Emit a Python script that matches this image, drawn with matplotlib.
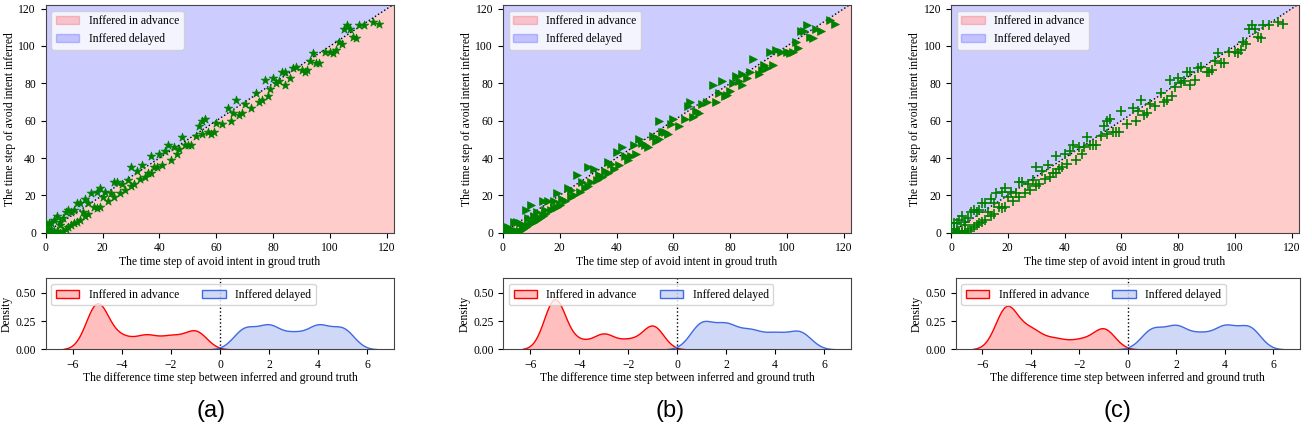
import numpy as np
import matplotlib
matplotlib.use('Agg')
import matplotlib.pyplot as plt
import seaborn as sns
from matplotlib.patches import Patch

plt.rcParams['font.family'] = ['Liberation Serif', 'DejaVu Serif']
plt.rcParams['font.size'] = 8.4
plt.rcParams['axes.edgecolor'] = '#444444'

# ground-truth time step of the avoid intent (same episodes in all three runs)
gt_steps = [0, 0, 1, 1, 1, 2, 2, 2, 3, 3,
            3, 4, 4, 4, 5, 5, 5, 6, 6, 7,
            7, 8, 8, 9, 9, 10, 10, 11, 11, 12,
            12, 13, 14, 14, 15, 15, 16, 17, 18, 18,
            19, 19, 20, 21, 22, 23, 24, 24, 25, 26,
            27, 28, 29, 30, 30, 31, 32, 33, 34, 35,
            36, 37, 37, 38, 39, 40, 41, 42, 43, 44,
            45, 46, 47, 48, 49, 50, 51, 53, 54, 55,
            55, 56, 57, 58, 59, 60, 62, 64, 65, 66,
            67, 68, 69, 70, 72, 74, 75, 76, 77, 78,
            79, 80, 81, 82, 83, 84, 84, 86, 87, 88,
            90, 91, 92, 93, 94, 95, 96, 98, 100, 101,
            102, 103, 104, 105, 106, 107, 108, 109, 110, 112,
            115, 117]

# inferred time step, model (a)
inferred_a = [2, 5, 5, 0, 2, 0, 5, 1, 0, 7,
              1, 9, 0, 1, 0, 6, 4, 1, 8, 2,
              11, 3, 12, 4, 11, 5, 12, 6, 16, 7,
              16, 11, 9, 18, 10, 16, 21, 14, 13, 22,
              24, 14, 19, 22, 17, 21, 27, 19, 27, 21,
              26, 23, 28, 35, 25, 26, 33, 29, 36, 30,
              32, 41, 32, 35, 35, 42, 36, 44, 47, 39,
              46, 42, 45, 51, 47, 47, 47, 52, 57, 60,
              53, 61, 54, 53, 54, 59, 58, 67, 60, 64,
              71, 63, 64, 69, 67, 75, 70, 71, 82, 73,
              77, 83, 80, 81, 86, 86, 79, 83, 88, 89,
              87, 86, 87, 92, 96, 91, 91, 97, 97, 96,
              98, 102, 101, 109, 111, 109, 105, 104, 111, 111,
              113, 112]

# inferred time step, model (b)
inferred_b = [1, 3, 0, 3, 0, 0, 3, 1, 0, 1,
              2, 0, 1, 6, 0, 1, 6, 1, 5, 2,
              4, 3, 12, 4, 8, 5, 15, 6, 9, 7,
              11, 8, 9, 17, 10, 12, 17, 12, 13, 17,
              14, 21, 15, 18, 17, 24, 19, 23, 20, 31,
              22, 27, 24, 35, 25, 27, 34, 28, 31, 30,
              33, 38, 32, 37, 34, 43, 36, 46, 41, 39,
              41, 47, 42, 50, 48, 47, 46, 52, 49, 60,
              50, 54, 54, 53, 58, 61, 57, 61, 68, 70,
              62, 65, 64, 69, 70, 79, 70, 75, 81, 73,
              74, 76, 80, 84, 81, 85, 79, 83, 86, 93,
              85, 87, 90, 88, 97, 90, 98, 97, 97, 96,
              97, 102, 99, 108, 108, 111, 105, 104, 109, 108,
              114, 112]

# inferred time step, model (c)
inferred_c = [2, 5, 5, 0, 2, 0, 5, 1, 0, 7,
              1, 9, 0, 1, 0, 6, 4, 1, 8, 2,
              11, 3, 12, 4, 11, 5, 12, 6, 16, 7,
              16, 11, 9, 18, 10, 16, 21, 14, 13, 22,
              24, 14, 19, 22, 17, 21, 27, 19, 27, 21,
              26, 23, 28, 35, 25, 26, 33, 29, 36, 30,
              32, 41, 32, 34, 35, 42, 37, 44, 47, 39,
              46, 42, 46, 51, 47, 47, 47, 52, 57, 60,
              53, 61, 54, 54, 54, 65, 58, 67, 60, 65,
              71, 63, 64, 69, 68, 75, 70, 71, 82, 73,
              78, 83, 80, 81, 86, 86, 79, 82, 88, 89,
              86, 86, 87, 92, 96, 91, 91, 97, 97, 96,
              98, 102, 101, 109, 111, 109, 105, 104, 111, 111,
              113, 112]

# label, data, marker, marker area, kde bandwidth factor
panels = [('(a)', inferred_a, '*', 42, 0.7),
          ('(b)', inferred_b, '>', 32, 0.66),
          ('(c)', inferred_c, '+', 45, 0.7)]

# axes boxes [left, bottom, width, height] in figure fraction
top_boxes = [[0.0348, 0.4735, 0.2657, 0.5159],
             [0.3832, 0.4735, 0.2655, 0.5159],
             [0.7248, 0.4735, 0.2652, 0.5159]]
bot_boxes = [[0.0348, 0.2097, 0.2657, 0.1606],
             [0.3836, 0.2097, 0.2650, 0.1606],
             [0.7284, 0.2097, 0.2624, 0.1606]]
tag_x = [0.161, 0.511, 0.852]

fig = plt.figure(figsize=(13.12, 4.42), dpi=100)
lim = 122.5

for i, (tag, inferred, marker, size, bw) in enumerate(panels):
    gt = np.array(gt_steps)
    inf = np.array(inferred)

    # scatter of inferred vs ground truth with advance / delay regions
    ax = fig.add_axes(top_boxes[i])
    xs = np.array([0, lim])
    ax.fill_between(xs, 0, xs, color='red', alpha=0.2, linewidth=0)
    ax.fill_between(xs, xs, lim, color='blue', alpha=0.2, linewidth=0)
    ax.plot(xs, xs, ':', color='black', linewidth=1)
    ax.scatter(gt, inf, marker=marker, s=size, color='green',
               linewidths=1.2 if marker == '+' else 0.5, zorder=3)
    ax.set_xlim(0, lim)
    ax.set_ylim(0, lim - 0.4)
    ax.set_xticks(range(0, 121, 20))
    ax.set_yticks(range(0, 121, 20))
    ax.set_xlabel('The time step of avoid intent in groud truth', labelpad=1)
    ax.set_ylabel('The time step of avoid intent inferred', labelpad=2)
    handles = [Patch(color='red', alpha=0.2, label='Inffered in advance'),
               Patch(color='blue', alpha=0.2, label='Inffered delayed')]
    ax.legend(handles=handles, loc='upper left')

    # density of the inference offset
    diff = inf - gt
    ax2 = fig.add_axes(bot_boxes[i])
    sns.kdeplot(diff[diff < 0], ax=ax2, fill=True, color='red',
                bw_adjust=bw, label='Inffered in advance')
    sns.kdeplot(diff[diff > 0], ax=ax2, fill=True, color='royalblue',
                bw_adjust=bw, label='Inffered delayed')
    ax2.axvline(0, color='black', linestyle=':', linewidth=1)
    ax2.set_xlim(-7.1, 7.1)
    ax2.set_ylim(0, 0.627)
    ax2.set_xticks([-6, -4, -2, 0, 2, 4, 6])
    ax2.set_yticks([0, 0.25, 0.5])
    ax2.set_yticklabels(['0.00', '0.25', '0.50'])
    ax2.set_xlabel('The difference time step between inferred and ground truth', labelpad=1)
    ax2.set_ylabel('Density', labelpad=2)
    ax2.legend(loc='upper left', ncol=2)

    fig.text(tag_x[i], 0.07, tag, ha='center', va='center',
             fontsize=17, family='Liberation Sans')

fig.savefig('out.png', dpi=100)
